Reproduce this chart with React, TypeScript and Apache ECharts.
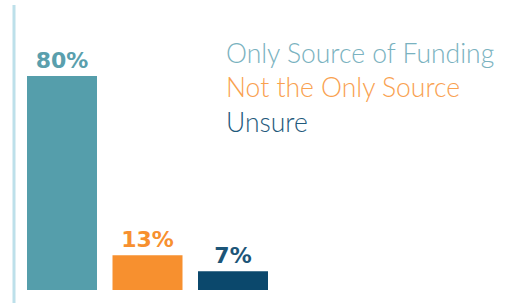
import React, { useEffect, useRef } from "react";
import * as echarts from "echarts";

const categories = ["Only Source of Funding", "Not the Only Source", "Unsure"];
const values = [80, 13, 7];
const barColors = ["#559eab", "#f7902f", "#0b486c"];
const labelColors = ["#5a9fad", "#f7902f", "#1c5578"];
const legendColors = ["#7ab2c0", "#f9a150", "#1f5a7c"];

export default function App() {
  const ref = useRef<HTMLDivElement>(null);
  useEffect(() => {
    if (!ref.current) return;
    const chart = echarts.init(ref.current, undefined, { renderer: "svg" });
    const series = categories.map((name, i) => ({
      name,
      type: "bar",
      stack: "all",
      barWidth: 70,
      data: categories.map((_, j) => (j === i ? values[i] : "-")),
      itemStyle: { color: barColors[i] },
      label: {
        show: true,
        position: "top",
        distance: 5,
        formatter: "{c}%",
        color: labelColors[i],
        fontFamily: "DejaVu Sans",
        fontWeight: "bold",
        fontSize: 22,
      },
    }));
    chart.setOption({
      animation: false,
      grid: { left: 19.25, right: 238.25, top: 22.5, bottom: 13 },
      xAxis: {
        type: "category",
        data: categories,
        axisLine: { show: false },
        axisTick: { show: false },
        axisLabel: { show: false },
      },
      yAxis: {
        type: "value",
        min: 0,
        max: 100,
        show: false,
      },
      legend: {
        orient: "vertical",
        left: 216,
        top: 34,
        icon: "none",
        itemWidth: 0,
        itemHeight: 10,
        itemGap: 7.5,
        selectedMode: false,
        data: categories.map((name, i) => ({
          name,
          textStyle: {
            color: legendColors[i],
            fontFamily: "Lato",
            fontWeight: 300,
            fontSize: 26.5,
          },
        })),
      },
      graphic: [
        {
          type: "line",
          shape: { x1: 14, y1: 5, x2: 14, y2: 303 },
          style: { stroke: "#bde0ea", lineWidth: 3 },
        },
      ],
      series,
    });
    return () => chart.dispose();
  }, []);
  return <div ref={ref} style={{ width: 514, height: 303, position: "absolute", left: 0, top: 0 }} />;
}
